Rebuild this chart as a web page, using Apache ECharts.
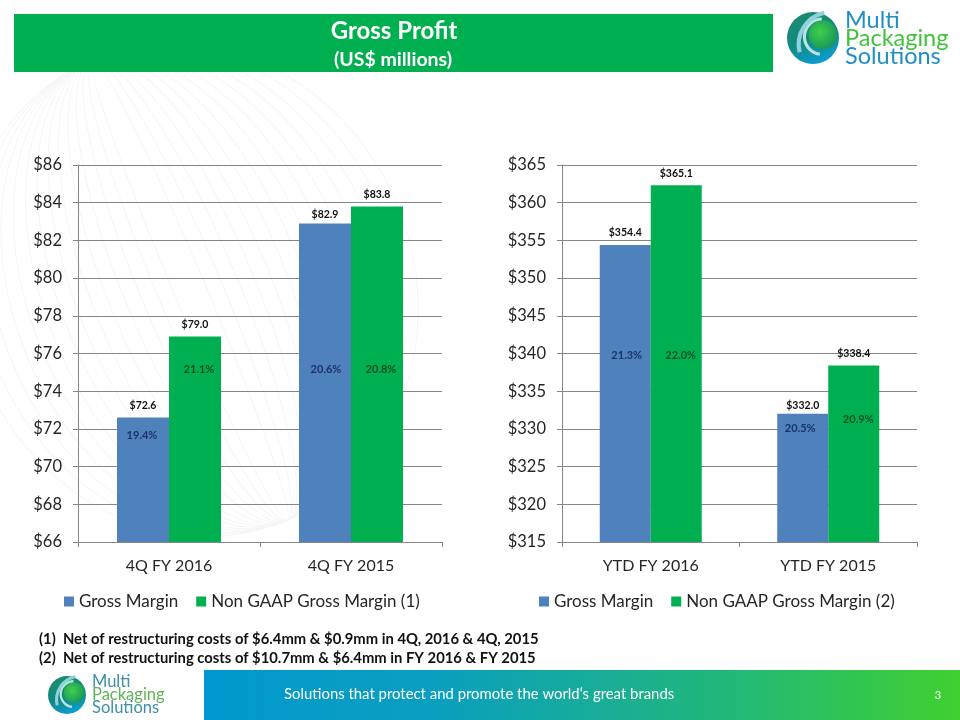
<!DOCTYPE html>
<html><head><meta charset="utf-8">
<style>html,body{margin:0;padding:0;background:#fff}#c{width:960px;height:720px}</style>
<script src="https://cdn.jsdelivr.net/npm/echarts@6/dist/echarts.min.js"></script>
</head><body><div id="c"></div>
<script>
const quarterCategories = ['4Q FY 2016', '4Q FY 2015'];
const quarterGross = [72.6, 82.9];
const quarterNonGaap = [76.9, 83.8];
const quarterGrossLabels = ['$72.6', '$82.9'];
const quarterNonGaapLabels = ['$79.0', '$83.8'];
const quarterGrossPct = ['19.4%', '20.6%'];
const quarterNonGaapPct = ['21.1%', '20.8%'];
const quarterGrossPctY = [71.65, 75.15];
const quarterNonGaapPctY = [75.15, 75.15];

const ytdCategories = ['YTD FY 2016', 'YTD FY 2015'];
const ytdGross = [354.4, 332.0];
const ytdNonGaap = [362.3, 338.4];
const ytdGrossLabels = ['$354.4', '$332.0'];
const ytdNonGaapLabels = ['$365.1', '$338.4'];
const ytdGrossPct = ['21.3%', '20.5%'];
const ytdNonGaapPct = ['22.0%', '20.9%'];
const ytdGrossPctY = [339.75, 330.1];
const ytdNonGaapPctY = [339.75, 331.3];

const footnotes = ['(1)  Net of restructuring costs of $6.4mm & $0.9mm in 4Q, 2016 & 4Q, 2015',
                   '(2)  Net of restructuring costs of $10.7mm & $6.4mm in FY 2016 & FY 2015'];

const FONT = 'Lato, "Open Sans", sans-serif';
const BLUE = '#4F81BD', GREEN = '#00B050', GRIDC = '#868686', TXT = '#262626';

function yAxis(i, min, max, step) {
  return { type: 'value', gridIndex: i, min, max, interval: step,
    axisLine: { show: true, lineStyle: { color: GRIDC } },
    axisTick: { show: true, length: 5, lineStyle: { color: GRIDC } },
    splitLine: { show: true, lineStyle: { color: GRIDC, width: 1 } },
    axisLabel: { color: TXT, fontFamily: FONT, fontSize: 16.5, margin: 16, formatter: v => '$' + v } };
}
function xAxis(i, cats) {
  return { type: 'category', gridIndex: i, data: cats,
    axisLine: { show: true, lineStyle: { color: GRIDC } },
    axisTick: { show: true, length: 5, alignWithLabel: false, lineStyle: { color: GRIDC } },
    axisLabel: { color: TXT, fontFamily: FONT, fontSize: 16, margin: 16 } };
}
function bar(name, i, vals, labels, color, width, dist) {
  return { type: 'bar', name, xAxisIndex: i, yAxisIndex: i, barWidth: width, barGap: 0,
    itemStyle: { color }, animation: false,
    data: vals.map((v, k) => ({ value: v, label: { distance: dist[k] } })),
    label: { show: true, position: 'top', color: '#111', fontFamily: FONT, fontWeight: 'bold', fontSize: 10.5,
      formatter: p => labels[p.dataIndex] } };
}
function pct(i, ys, labels, color, off) {
  return { type: 'scatter', xAxisIndex: i, yAxisIndex: i, symbolSize: 1, silent: true, animation: false,
    itemStyle: { color: 'rgba(0,0,0,0)' }, z: 5,
    data: ys.map((y, k) => ({ value: [k, y], label: { offset: [off[k], 0] } })),
    label: { show: true, position: 'inside', color, fontFamily: FONT, fontWeight: 'bold', fontSize: 11,
      formatter: p => labels[p.dataIndex] } };
}
function legend(left, names) {
  return { show: true, left, top: 588, orient: 'horizontal', itemWidth: 10, itemHeight: 10, itemGap: 18,
    icon: 'rect', data: names, textStyle: { color: TXT, fontFamily: FONT, fontSize: 17 } };
}

// Decorative very faint globe watermark lines
const wm = [];
for (let k = 1; k <= 14; k++) {
  wm.push({ type: 'ellipse', x: 190, y: 290, rotation: 0.4, shape: { cx: 0, cy: 0, rx: k * 16, ry: 250 }, silent: true,
    style: { fill: 'none', stroke: '#f6f6f6', lineWidth: 1 } });
}
function logo(cx, cy, r, tx, fs, pitch, blue, lime) {
  const line = (text, dy, fill) => ({ type: 'text', x: tx, y: cy + dy, silent: true,
    style: { text, fill, verticalAlign: 'middle', font: fs + 'px ' + FONT } });
  return [
    { type: 'circle', shape: { cx, cy, r }, silent: true, style: {
      fill: { type: 'linear', x: 0.3, y: 0, x2: 0.7, y2: 1, colorStops: [{ offset: 0, color: '#1c8c70' }, { offset: 0.5, color: '#12897f' }, { offset: 1, color: '#0b9fdc' }] } } },
    { type: 'circle', shape: { cx: cx + r * 0.38, cy: cy - r * 0.12, r: r * 0.55 }, silent: true, style: {
      fill: { type: 'radial', x: 0.4, y: 0.4, r: 0.7, colorStops: [{ offset: 0, color: '#3fd04a' }, { offset: 1, color: '#16905e' }] } } },
    { type: 'arc', shape: { cx: cx + r * 0.35, cy: cy - r * 0.05, r: r * 0.68, startAngle: 1.7, endAngle: 4.7 }, silent: true,
      style: { fill: 'none', stroke: '#b9e6da', lineWidth: r * 0.12 } },
    { type: 'arc', shape: { cx: cx + r * 0.7, cy: cy + r * 0.25, r: r * 1.25, startAngle: 2.9, endAngle: 4.5 }, silent: true,
      style: { fill: 'none', stroke: '#8fd2de', lineWidth: r * 0.16 } },
    line('Multi', -pitch, blue), line('Packaging', 0, lime), line('Solutions', pitch, blue)
  ];
}
const graphics = [
  ...wm,
  { type: 'rect', shape: { x: 14, y: 14, width: 759, height: 58 }, silent: true, style: { fill: GREEN } },
  { type: 'text', x: 394, y: 31, silent: true, style: { text: 'Gross Profit', fill: '#fff', align: 'center', verticalAlign: 'middle', font: 'bold 24px ' + FONT } },
  { type: 'text', x: 393, y: 60, silent: true, style: { text: '(US$ millions)', fill: '#fff', align: 'center', verticalAlign: 'middle', font: 'bold 19.5px ' + FONT } },
  ...logo(813, 38, 26, 845, 23.5, 18, '#1f8fc4', '#42c23c'),
  { type: 'text', x: 39, y: 639, silent: true, style: { text: footnotes[0], fill: '#111', verticalAlign: 'middle', font: 'bold 14.8px ' + FONT } },
  { type: 'text', x: 39, y: 658, silent: true, style: { text: footnotes[1], fill: '#111', verticalAlign: 'middle', font: 'bold 14.8px ' + FONT } },
  { type: 'rect', shape: { x: 204, y: 670, width: 756, height: 50 }, silent: true, style: {
    fill: { type: 'linear', x: 0, y: 0, x2: 1, y2: 0, colorStops: [{ offset: 0, color: '#0098CE' }, { offset: 0.3, color: '#0a9fc0' }, { offset: 0.7, color: '#22b878' }, { offset: 1, color: '#40D030' }] } } },
  { type: 'text', x: 284, y: 694, silent: true, style: { text: 'Solutions that protect and promote the world\u2018s great brands', fill: '#fff', verticalAlign: 'middle', font: '14.9px ' + FONT } },
  { type: 'text', x: 938, y: 695, silent: true, style: { text: '3', fill: '#fff', align: 'center', verticalAlign: 'middle', font: '11px ' + FONT } },
  ...logo(67, 695, 19, 92, 16.5, 13, '#3b8fa8', '#5fb45a')
];

const chart = echarts.init(document.getElementById('c'), null, { renderer: 'canvas' });
chart.setOption({
  animation: false, backgroundColor: '#fff',
  grid: [
    { left: 78, top: 165, width: 364, height: 377 },
    { left: 562, top: 165, width: 355, height: 377 }
  ],
  xAxis: [xAxis(0, quarterCategories), xAxis(1, ytdCategories)],
  yAxis: [yAxis(0, 66, 86, 2), yAxis(1, 315, 365, 5)],
  legend: [legend(59, ['Gross Margin', 'Non GAAP Gross Margin (1)']), legend(534, ['Gross Margin', 'Non GAAP Gross Margin (2)'])],
  graphic: graphics,
  series: [
    bar('Gross Margin', 0, quarterGross, quarterGrossLabels, BLUE, 52, [6, 3]),
    bar('Non GAAP Gross Margin (1)', 0, quarterNonGaap, quarterNonGaapLabels, GREEN, 52, [6, 6]),
    bar('Gross Margin', 1, ytdGross, ytdGrossLabels, BLUE, 51, [7, 3]),
    bar('Non GAAP Gross Margin (2)', 1, ytdNonGaap, ytdNonGaapLabels, GREEN, 51, [6, 6]),
    pct(0, quarterGrossPctY, quarterGrossPct, '#0b1f4b', [-27, -25]),
    pct(0, quarterNonGaapPctY, quarterNonGaapPct, '#05331a', [30, 30]),
    pct(1, ytdGrossPctY, ytdGrossPct, '#0b1f4b', [-24, -28]),
    pct(1, ytdNonGaapPctY, ytdNonGaapPct, '#05331a', [30, 30])
  ]
});
</script></body></html>
